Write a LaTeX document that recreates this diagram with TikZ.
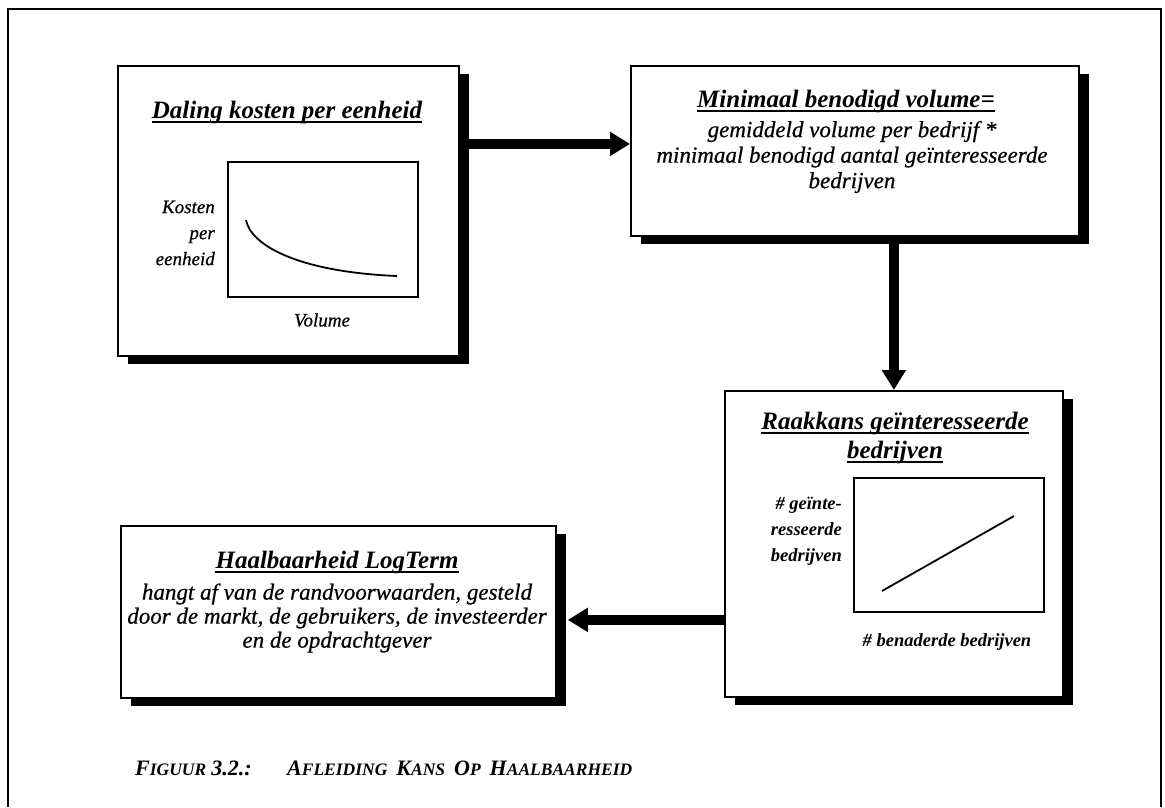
\documentclass[tikz,border=0pt]{standalone}
\usepackage{fontspec}
\setmainfont[ItalicFeatures={FakeBold=0.6}]{Liberation Serif}
\usetikzlibrary{arrows.meta,shadows,calc}
\newcommand\capword[2]{{\fontsize{22}{22}\selectfont #1}{\fontsize{17.5}{22}\selectfont #2}}
\newcommand\capgap{\hspace{9pt}}

\begin{document}
\begin{tikzpicture}[x=1pt,y=-1pt,
  box/.style={draw, line width=1.8pt, fill=white, inner sep=0pt, anchor=north west,
    drop shadow={shadow xshift=10pt, shadow yshift=-8pt, fill=black, opacity=1}},
  chart/.style={draw, line width=1.8pt, inner sep=0pt, anchor=north west},
  fat/.style={line width=10pt, -{Triangle[width=23pt,length=20pt]}},
  ttl/.style={font=\fontsize{25}{29}\selectfont\bfseries\itshape, inner sep=0pt},
  body/.style={font=\fontsize{23}{25}\selectfont\itshape, align=center, inner sep=0pt},
  lbl/.style={font=\fontsize{19}{26}\selectfont\itshape, align=right, inner sep=0pt},
  uline/.style={line width=1.6pt},
  caption/.style={font=\fontsize{17.5}{22}\selectfont\bfseries\itshape, anchor=base west, inner sep=0pt}
]
\useasboundingbox (0,0) rectangle (1165,807);

% outer frame
\draw[line width=1.6pt] (8,807) -- (8,9) -- (1161,9) -- (1161,807);

% boxes
\node[box, minimum width=341pt, minimum height=290pt] (box1) at (117,65) {};
\node[box, minimum width=448pt, minimum height=170pt] (box2) at (630,65) {};
\node[box, minimum width=338pt, minimum height=306pt] (box3) at (724,390) {};
\node[box, minimum width=435pt, minimum height=172pt] (box4) at (120,525) {};

% box 1: cost per unit
\node[ttl] (t1) at (287,112) {Daling kosten per eenheid};
\draw[uline] ($(t1.base west)+(0,4)$) -- ($(t1.base east)+(0,4)$);
\node[chart, minimum width=190pt, minimum height=135pt] (c1) at (227,161) {};
\node[lbl, anchor=east] (y1) at (215,233) {Kosten\\per\\eenheid};
\node[lbl] (x1) at (322,320) {Volume};
\draw[line width=1.8pt] (246,220) .. controls (251,246) and (300,272) .. (397,276);

% box 2: minimum volume
\node[ttl] (t2) at (846,101) {Minimaal benodigd volume=};
\draw[uline] ($(t2.base west)+(0,4)$) -- ($(t2.base east)+(0,4)$);
\node[body, font=\fontsize{23}{25.5}\selectfont\itshape] (b2) at (852,157)
  {gemiddeld volume per bedrijf *\\minimaal benodigd aantal geïnteresseerde\\bedrijven};

% box 3: hit rate
\node[ttl] (t3a) at (895,423) {Raakkans geïnteresseerde};
\draw[uline] ($(t3a.base west)+(0,4)$) -- ($(t3a.base east)+(0,4)$);
\node[ttl] (t3b) at (895,452) {bedrijven};
\draw[uline] ($(t3b.base west)+(0,4)$) -- ($(t3b.base east)+(0,4)$);
\node[chart, minimum width=190pt, minimum height=134pt] (c3) at (853,477) {};
\node[lbl, font=\fontsize{18.5}{26}\selectfont\bfseries\itshape, anchor=east] (y3) at (842,531)
  {\# geïnte-\\resseerde\\bedrijven};
\node[lbl, font=\fontsize{18.5}{26}\selectfont\bfseries\itshape] (x3) at (947,642) {\# benaderde bedrijven};
\draw[line width=1.8pt] (882,591) -- (1014,516);

% box 4: feasibility
\node[ttl] (t4) at (337,562) {Haalbaarheid LogTerm};
\draw[uline] ($(t4.base west)+(0,4)$) -- ($(t4.base east)+(0,4)$);
\node[body, font=\fontsize{23}{24}\selectfont\itshape] (b4) at (337,618)
  {hangt af van de randvoorwaarden, gesteld\\door de markt, de gebruikers, de investeerder\\en de opdrachtgever};

% connectors
\coordinate (a1) at ($(box2.west)+(0,-7)$);
\draw[fat] (box1.east |- a1) -- (a1);
\draw[fat] (box2.south -| box3.north) -- (box3.north);
\coordinate (a3) at ($(box3.west)+(0,76)$);
\coordinate (a3end) at ($(box4.east |- a3)+(11,0)$);
\draw[fat] (a3) -- (a3end);

% caption
\node[caption] (cap1) at (135,775) {\capword{F}{IGUUR}\hspace{5pt}{\fontsize{22}{22}\selectfont 3.2.:}};
\node[caption] (cap2) at (287,775) {\capword{A}{FLEIDING}\capgap\capword{K}{ANS}\capgap\capword{O}{P}\capgap\capword{H}{AALBAARHEID}};
\end{tikzpicture}
\end{document}
